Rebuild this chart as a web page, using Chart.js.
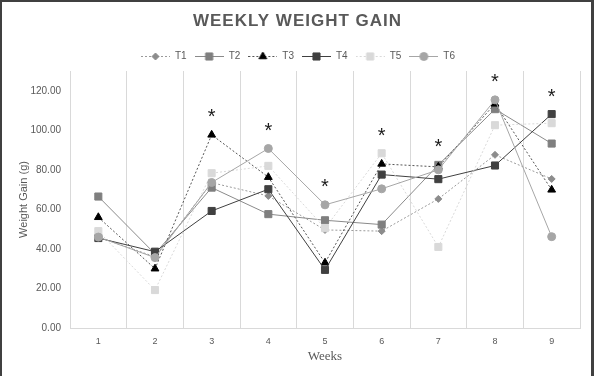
<!DOCTYPE html>
<html>
<head>
<meta charset="utf-8">
<script src="https://cdn.jsdelivr.net/npm/chart.js@4.4.1/dist/chart.umd.min.js"></script>
<style>
  html, body { margin: 0; padding: 0; background: #fff; }
  #frame {
    width: 594px; height: 376px; box-sizing: border-box;
    border-top: 2px solid #404040; border-left: 2px solid #404040; border-right: 3px solid #404040;
    background: #fff;
  }
  #wrap { position: relative; width: 589px; height: 374px; }
</style>
</head>
<body>
<div id="frame"><div id="wrap"><canvas id="chart"></canvas></div></div>
<script>
// week labels and series values (g)
const weeks = ['1', '2', '3', '4', '5', '6', '7', '8', '9'];
const t1 = [46, 36, 73.5, 66.8, 49.6, 49, 65.3, 87.6, 75.4];
const t2 = [66.5, 37.5, 71, 57.6, 54.5, 52.3, 82.5, 110.7, 93.3];
const t3 = [56, 30, 97.7, 76.3, 33, 83, 81.5, 113.4, 69.9];
const t4 = [45.5, 38.6, 59.2, 70.2, 29.4, 77.6, 75.3, 82.2, 108.2];
const t5 = [49, 19.2, 78.3, 82, 50.5, 88.4, 41, 102.6, 103.6];
const t6 = [46, 35.6, 73.6, 90.8, 62.3, 70.4, 80, 115.4, 46.2];
const sigWeeks = ['3', '4', '5', '6', '7', '8', '9'];
const yTicks = [0, 20, 40, 60, 80, 100, 120];

const styles = [
  { label: 'T1', data: t1, color: '#8c8c8c', line: '#9a9a9a', dash: [2, 2], shape: 'rectRot', r: 3.5 },
  { label: 'T2', data: t2, color: '#7f7f7f', line: '#8a8a8a', dash: [], shape: 'rect', r: 5 },
  { label: 'T3', data: t3, color: '#000000', line: '#555555', dash: [2, 2], shape: 'triangle', r: 4.5 },
  { label: 'T4', data: t4, color: '#404040', line: '#404040', dash: [], shape: 'rect', r: 5 },
  { label: 'T5', data: t5, color: '#d9d9d9', line: '#d9d9d9', dash: [2, 2], shape: 'rect', r: 5 },
  { label: 'T6', data: t6, color: '#a6a6a6', line: '#a6a6a6', dash: [], shape: 'circle', r: 4 }
];

// legend sample: short line with the marker in the middle
function legendIcon(s) {
  const c = document.createElement('canvas');
  c.width = 29; c.height = 12;
  const g = c.getContext('2d');
  g.strokeStyle = s.line;
  g.lineWidth = 1;
  g.setLineDash(s.dash);
  g.beginPath(); g.moveTo(0, 6.5); g.lineTo(29, 6.5); g.stroke();
  g.setLineDash([]);
  g.fillStyle = s.color;
  g.strokeStyle = s.color;
  Chart.helpers.drawPoint(g, { pointStyle: s.shape, radius: s.r, borderWidth: 1, rotation: 0 }, 14.5, 6.5);
  return c;
}

const datasets = styles.map((s, i) => ({
  label: s.label,
  data: s.data,
  order: styles.length - i,
  borderColor: s.line,
  borderWidth: 1,
  borderDash: s.dash,
  backgroundColor: s.color,
  pointStyle: s.shape,
  pointRadius: s.r,
  pointBackgroundColor: s.color,
  pointBorderColor: s.color,
  pointBorderWidth: 1,
  tension: 0,
  fill: false,
  icon: legendIcon(s)
}));

const titlePlugin = {
  id: 'spacedTitle',
  afterLayout(chart) {
    // legend sits a little right of centre in the original
    chart.legend.left += 7;
    chart.legend.right += 7;
  },
  afterDraw(chart) {
    const ctx = chart.ctx;
    ctx.save();
    ctx.font = 'bold 17px "Liberation Sans", Arial, sans-serif';
    ctx.letterSpacing = '1px';
    ctx.fillStyle = '#595959';
    ctx.textAlign = 'center';
    ctx.textBaseline = 'middle';
    ctx.fillText('WEEKLY WEIGHT GAIN', chart.width / 2 + 1, 19);
    ctx.restore();
  }
};

const starPlugin = {
  id: 'stars',
  afterDatasetsDraw(chart) {
    const { ctx, scales: { x, y } } = chart;
    ctx.save();
    ctx.font = '20px "Liberation Sans", Arial, sans-serif';
    ctx.fillStyle = '#1a1a1a';
    ctx.textAlign = 'center';
    ctx.textBaseline = 'middle';
    sigWeeks.forEach(w => {
      const i = weeks.indexOf(w);
      const top = Math.max(...styles.map(s => s.data[i]));
      ctx.fillText('*', x.getPixelForValue(i), y.getPixelForValue(top) - 17);
    });
    ctx.restore();
  }
};

new Chart(document.getElementById('chart'), {
  type: 'line',
  data: { labels: weeks, datasets },
  options: {
    responsive: true,
    maintainAspectRatio: false,
    animation: false,
    layout: { padding: { top: 41, right: 11, bottom: 0, left: 0 } },
    plugins: {
      title: { display: false },
      tooltip: { enabled: false },
      legend: {
        position: 'top',
        labels: {
          usePointStyle: true,
          pointStyleWidth: 29,
          boxHeight: 10,
          padding: 8,
          color: '#595959',
          font: { size: 10, family: '"Liberation Sans", Arial, sans-serif' },
          sort: (a, b) => a.datasetIndex - b.datasetIndex,
          generateLabels(chart) {
            return chart.data.datasets.map((d, i) => ({
              text: d.label,
              pointStyle: d.icon,
              fillStyle: d.backgroundColor,
              strokeStyle: d.borderColor,
              lineWidth: 0,
              hidden: false,
              datasetIndex: i,
              fontColor: '#595959'
            }));
          }
        }
      }
    },
    scales: {
      x: {
        offset: true,
        grid: { display: true, offset: true, color: '#d9d9d9', lineWidth: 1, drawTicks: false },
        border: { display: true, color: '#d9d9d9' },
        ticks: { color: '#595959', padding: 8, font: { size: 9, family: '"Liberation Sans", Arial, sans-serif' } },
        title: {
          display: true,
          text: 'Weeks',
          color: '#595959',
          font: { size: 13, family: '"Liberation Serif", "Times New Roman", serif' },
          padding: { top: 0, bottom: 12 }
        },
        afterFit(scale) { scale.height = 48; }
      },
      y: {
        min: 0,
        max: 130,
        grid: { display: false, drawTicks: false },
        border: { display: true, color: '#d9d9d9' },
        afterBuildTicks(scale) { scale.ticks = yTicks.map(v => ({ value: v })); },
        ticks: {
          color: '#595959',
          padding: 9,
          font: { size: 10, family: '"Liberation Sans", Arial, sans-serif' },
          callback: v => v.toFixed(2)
        },
        title: {
          display: true,
          text: 'Weight Gain (g)',
          color: '#595959',
          font: { size: 11, family: '"Liberation Sans", Arial, sans-serif' },
          padding: { top: 15, bottom: 0 }
        },
        afterFit(scale) { scale.width = 68; }
      }
    }
  },
  plugins: [titlePlugin, starPlugin]
});
</script>
</body>
</html>
